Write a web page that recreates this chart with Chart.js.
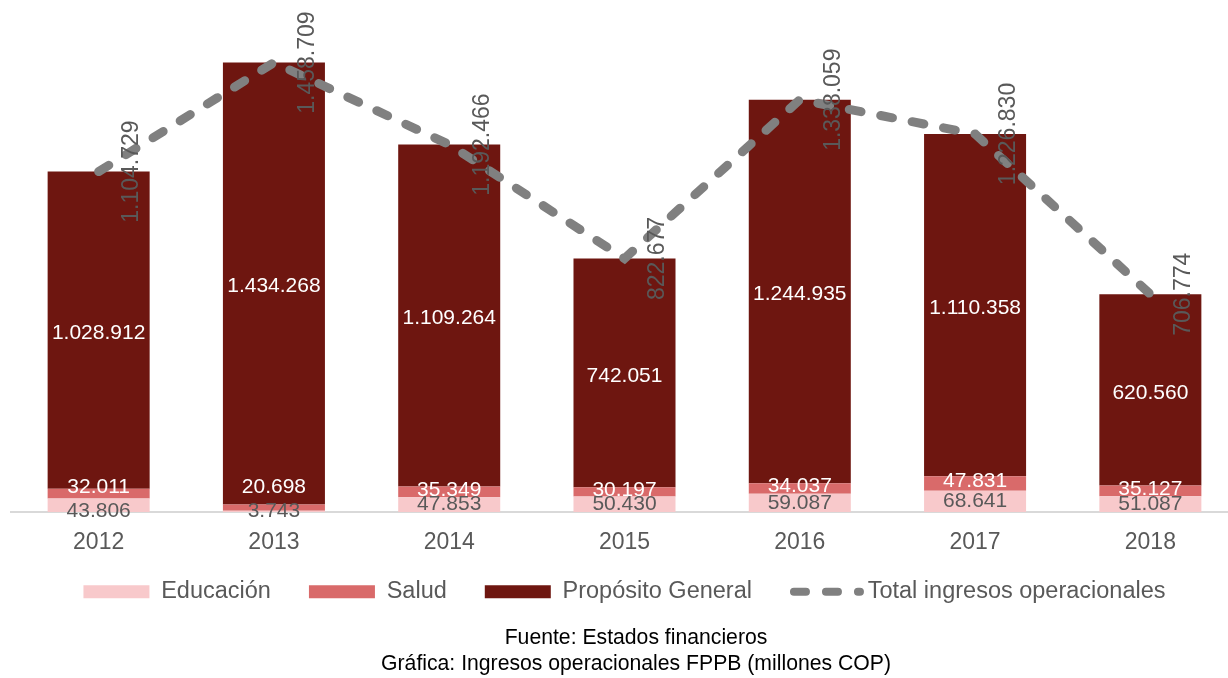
<!DOCTYPE html>
<html><head><meta charset="utf-8">
<script src="https://cdn.jsdelivr.net/npm/chart.js@4.4.1/dist/chart.umd.min.js"></script>
<style>
html,body{margin:0;padding:0;background:#fff;overflow:hidden;}
#wrap{position:relative;width:1240px;height:678px;}
</style></head><body>
<div id="wrap"><canvas id="c"></canvas></div>
<script>
const years = ['2012','2013','2014','2015','2016','2017','2018'];
const educacion = [43806, 3743, 47853, 50430, 59087, 68641, 51087];
const salud = [32011, 20698, 35349, 30197, 34037, 47831, 35127];
const propositoGeneral = [1028912, 1434268, 1109264, 742051, 1244935, 1110358, 620560];
const totalIngresos = [1104729, 1458709, 1192466, 822677, 1338059, 1226830, 706774];
const seriesNames = ['Educación', 'Salud', 'Propósito General', 'Total ingresos operacionales'];
const footerLines = ['Fuente: Estados financieros', 'Gráfica: Ingresos operacionales FPPB (millones COP)'];

const FONT = "'Liberation Sans', Arial, sans-serif";
const fmt = v => String(v).replace(/\B(?=(\d{3})+(?!\d))/g, '.');

const labelPlugin = {
  id: 'valueLabels',
  afterDatasetsDraw(chart) {
    const ctx = chart.ctx;
    const mE = chart.getDatasetMeta(0), mS = chart.getDatasetMeta(1),
          mP = chart.getDatasetMeta(2), mT = chart.getDatasetMeta(3);
    ctx.save();
    ctx.textAlign = 'center';
    ctx.textBaseline = 'middle';
    ctx.font = '21px ' + FONT;
    years.forEach((_, i) => {
      const e = mE.data[i], s = mS.data[i], p = mP.data[i];
      let eY = (e.y + e.base) / 2, sY = (s.y + s.base) / 2;
      const pY = (p.y + p.base) / 2 + 3;
      if (eY - sY < 12) {
        const mid = (eY + sY) / 2; eY = mid + 12; sY = mid - 12;
      } else {
        sY -= 2;
      }
      if (eY > e.base - 0.5) { eY = e.base - 0.5; sY = Math.min(sY, eY - 24); }
      ctx.fillStyle = '#ffffff';
      ctx.fillText(fmt(propositoGeneral[i]), p.x, pY);
      ctx.fillText(fmt(salud[i]), s.x, sY);
      ctx.fillStyle = '#595959';
      ctx.fillText(fmt(educacion[i]), e.x, eY);
    });
    ctx.font = '23px ' + FONT;
    ctx.fillStyle = '#595959';
    mT.data.forEach((pt, i) => {
      ctx.save();
      ctx.translate(pt.x + 33.5, pt.y);
      ctx.rotate(-Math.PI / 2);
      ctx.fillText(fmt(totalIngresos[i]), 0, 0);
      ctx.restore();
    });
    ctx.restore();
  }
};

const legendLinePlugin = {
  id: 'legendLine',
  afterDraw(chart) {
    const hb = chart.legend && chart.legend.legendHitBoxes[3];
    if (!hb) return;
    const ctx = chart.ctx;
    ctx.save();
    ctx.strokeStyle = '#808080';
    ctx.lineWidth = 8;
    ctx.lineCap = 'round';
    ctx.setLineDash([12, 20]);
    const y = hb.top + hb.height / 2;
    ctx.beginPath();
    ctx.moveTo(hb.left + 4, y);
    ctx.lineTo(hb.left + 70, y);
    ctx.stroke();
    ctx.restore();
  }
};

const layoutTweak = {
  id: 'layoutTweak',
  afterLayout(chart) {
    const t = chart.titleBlock;
    if (t) { t.left += 11.5; t.right += 11.5; }
    const x = chart.scales.x;
    if (x) { x.bottom += 30; }
  }
};

new Chart(document.getElementById('c'), {
  type: 'bar',
  data: {
    labels: years,
    datasets: [
      { label: seriesNames[0], data: educacion, backgroundColor: '#F8C9CB', stack: 's', order: 1 },
      { label: seriesNames[1], data: salud, backgroundColor: '#D96A6A', stack: 's', order: 1 },
      { label: seriesNames[2], data: propositoGeneral, backgroundColor: '#6E1610', stack: 's', order: 1 },
      { type: 'line', label: seriesNames[3], data: totalIngresos, borderColor: '#808080', backgroundColor: '#808080',
        borderWidth: 9, borderDash: [12, 20], borderCapStyle: 'round', pointRadius: 0, fill: false,
        tension: 0, stack: 't', order: 0 }
    ]
  },
  options: {
    responsive: true,
    maintainAspectRatio: false,
    animation: false,
    devicePixelRatio: 1,
    layout: { padding: { top: 19, left: 11, right: 2, bottom: 0 } },
    datasets: { bar: { barPercentage: 0.582, categoryPercentage: 1 } },
    scales: {
      x: {
        stacked: true,
        grid: { display: false, drawTicks: false },
        border: { display: true, color: '#d9d9d9', width: 2 },
        ticks: { color: '#595959', font: { family: FONT, size: 23 }, padding: 17 },
        afterFit(s) { s.height = 30; }
      },
      y: { stacked: true, display: false, min: 0, max: 1600000 }
    },
    plugins: {
      legend: {
        position: 'bottom',
        labels: {
          boxWidth: 66, boxHeight: 13, padding: 38, color: '#595959',
          font: { family: FONT, size: 23.5 },
          generateLabels(chart) {
            return chart.data.datasets.map((ds, i) => ({
              text: ds.label,
              fillStyle: ds.type === 'line' ? 'rgba(0,0,0,0)' : ds.backgroundColor,
              strokeStyle: 'rgba(0,0,0,0)',
              lineWidth: 0,
              hidden: !chart.isDatasetVisible(i),
              datasetIndex: i,
              fontColor: '#595959'
            }));
          }
        }
      },
      title: {
        display: true, position: 'bottom', text: footerLines, color: '#000000',
        font: { family: FONT, size: 21.2, weight: 'normal', lineHeight: 1.226 },
        padding: { top: 11.5, bottom: 1 }
      },
      tooltip: { enabled: false }
    }
  },
  plugins: [labelPlugin, legendLinePlugin, layoutTweak]
});
</script>
</body></html>
